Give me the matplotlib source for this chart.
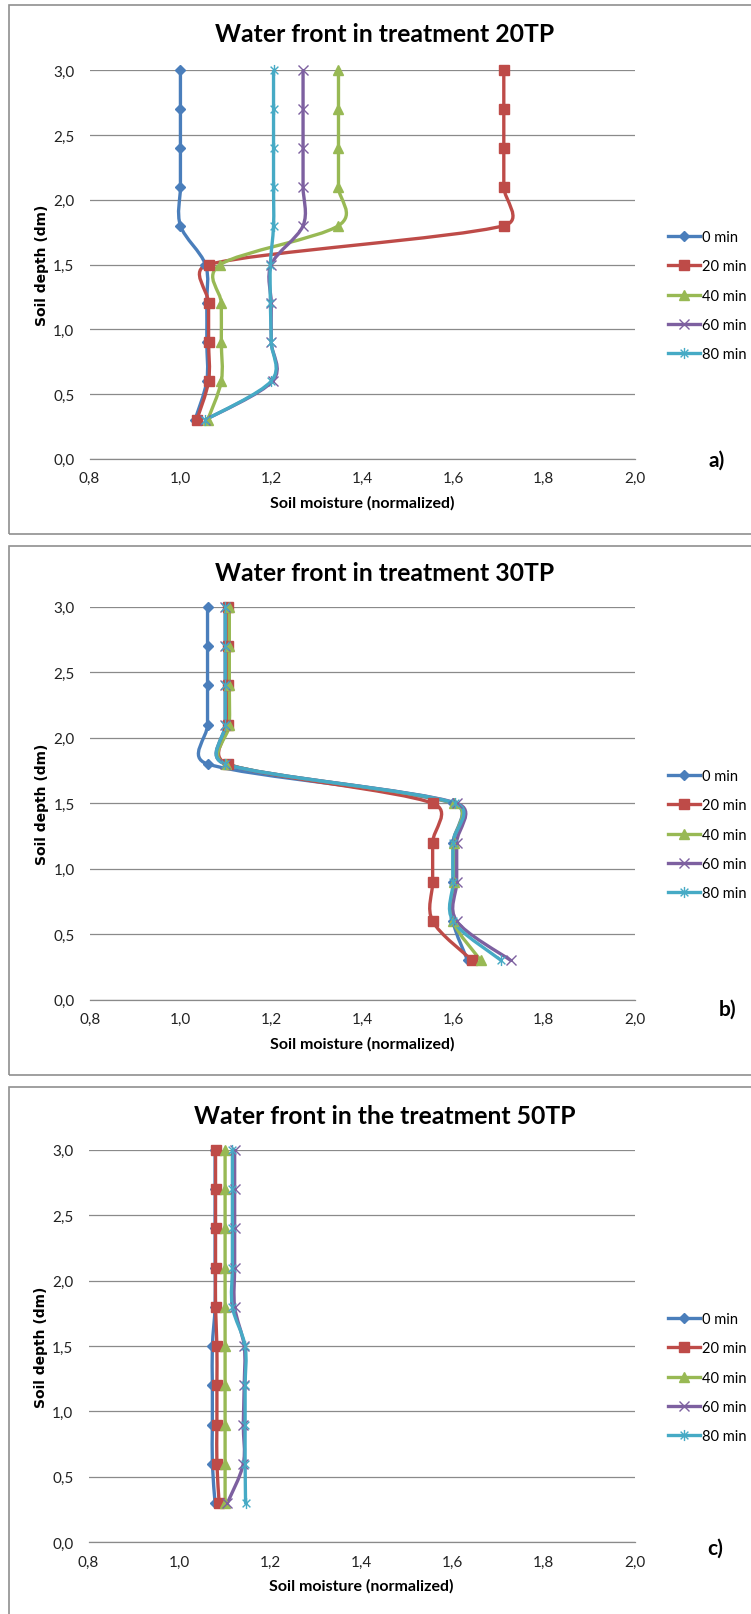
import numpy as np
import matplotlib
matplotlib.use('Agg')
import matplotlib.pyplot as plt
from matplotlib.path import Path
from matplotlib.patches import PathPatch, Rectangle
from matplotlib.lines import Line2D

plt.rcParams['font.family'] = ['Lato', 'DejaVu Sans']

W, H = 751, 1615

# depth of the probes (dm), read from top to bottom
depth = [3.0, 2.7, 2.4, 2.1, 1.8, 1.5, 1.2, 0.9, 0.6, 0.3]
times = ['0 min', '20 min', '40 min', '60 min', '80 min']

# treatment 20TP
tp20_0 = [1.0, 1.0, 1.0, 1.0, 1.0, 1.055, 1.058, 1.058, 1.058, 1.032]
tp20_20 = [1.712, 1.712, 1.712, 1.712, 1.712, 1.062, 1.062, 1.062, 1.062, 1.036]
tp20_40 = [1.348, 1.348, 1.348, 1.348, 1.348, 1.088, 1.09, 1.09, 1.09, 1.06]
tp20_60 = [1.27, 1.27, 1.27, 1.27, 1.27, 1.2, 1.2, 1.2, 1.203, 1.055]
tp20_80 = [1.205, 1.205, 1.205, 1.205, 1.205, 1.198, 1.198, 1.2, 1.2, 1.055]

# treatment 30TP
tp30_0 = [1.059, 1.059, 1.059, 1.059, 1.059, 1.6, 1.6, 1.6, 1.6, 1.632]
tp30_20 = [1.103, 1.103, 1.103, 1.103, 1.103, 1.555, 1.555, 1.555, 1.555, 1.642]
tp30_40 = [1.107, 1.107, 1.107, 1.107, 1.1, 1.601, 1.601, 1.601, 1.6, 1.661]
tp30_60 = [1.098, 1.098, 1.098, 1.098, 1.098, 1.608, 1.608, 1.608, 1.608, 1.727]
tp30_80 = [1.098, 1.098, 1.098, 1.098, 1.098, 1.605, 1.6, 1.6, 1.6, 1.706]

# treatment 50TP
tp50_0 = [1.078, 1.078, 1.078, 1.078, 1.078, 1.072, 1.072, 1.072, 1.072, 1.078]
tp50_20 = [1.079, 1.079, 1.079, 1.079, 1.079, 1.082, 1.082, 1.082, 1.082, 1.087]
tp50_40 = [1.1, 1.1, 1.1, 1.1, 1.1, 1.1, 1.1, 1.1, 1.1, 1.1]
tp50_60 = [1.121, 1.121, 1.121, 1.121, 1.121, 1.142, 1.142, 1.14, 1.14, 1.105]
tp50_80 = [1.116, 1.116, 1.116, 1.116, 1.116, 1.144, 1.144, 1.144, 1.144, 1.145]

titles = ['Water front in treatment 20TP', 'Water front in treatment 30TP',
          'Water front in the treatment 50TP']
letters = ['a)', 'b)', 'c)']

colors = ['#4A7EBB', '#BE4B48', '#98B954', '#7D60A0', '#46AAC5']

# excel-like star marker: x with a vertical bar
star = Path([(0, -1), (0, 1), (-0.7, -0.7), (0.7, 0.7), (-0.7, 0.7), (0.7, -0.7)],
            [Path.MOVETO, Path.LINETO] * 3)
marker_kw = [
    dict(marker='D', ms=5.5, mfc=colors[0], mec=colors[0]),
    dict(marker='s', ms=7, mfc=colors[1], mec=colors[1]),
    dict(marker='^', ms=7.5, mfc=colors[2], mec=colors[2]),
    dict(marker='x', ms=7, mec=colors[3], mew=1.0),
    dict(marker=star, ms=8, mec=colors[4], mew=1.0),
]


def handle(v, seg, f=1/6, cap=0.55):
    # catmull-rom tangent, limited so short segments don't overshoot much
    h = f * v
    n = np.hypot(*h)
    if n > cap * seg and n > 0:
        h = h * cap * seg / n
    return h


def smooth_patch(ax, xs, ys, color):
    # bezier smoothing done in screen space, like the spreadsheet smoothed lines
    pts = ax.transData.transform(np.column_stack([xs, ys]))
    n = len(pts)
    verts = [pts[0]]
    codes = [Path.MOVETO]
    for i in range(n - 1):
        p1, p2 = pts[i], pts[i + 1]
        p0 = pts[i - 1] if i > 0 else p1
        p3 = pts[i + 2] if i + 2 < n else p2
        seg = np.hypot(*(p2 - p1))
        c1 = p1 + handle(p2 - p0, seg)
        c2 = p2 - handle(p3 - p1, seg)
        verts += [c1, c2, p2]
        codes += [Path.CURVE4] * 3
    verts = ax.transData.inverted().transform(np.array(verts))
    return PathPatch(Path(verts, codes), fill=False, ec=color, lw=2.4,
                     capstyle='round', joinstyle='round')


def fx(x):
    return x / W


def fy(y):
    return 1 - y / H


fig = plt.figure(figsize=(W / 100, H / 100), dpi=100)

# panel geometry in pixels
frames = [(9, 6, 535), (9, 547, 1076), (9, 1088, 1640)]
axboxes = [(89.6, 71.3, 634.6, 459.7), (90, 607.8, 634.6, 1000.7), (88.6, 1150.8, 634.6, 1543.3)]
title_y = [34.4, 573.4, 1116.3]
legend_y = [231, 770, 1313]
letter_pos = [(717, 461), (728, 1010), (715, 1549)]

series = [[tp20_0, tp20_20, tp20_40, tp20_60, tp20_80],
          [tp30_0, tp30_20, tp30_40, tp30_60, tp30_80],
          [tp50_0, tp50_20, tp50_40, tp50_60, tp50_80]]

for k in range(3):
    l, t, b = frames[k]
    fig.patches.append(Rectangle((fx(l), fy(b)), fx(800 - l), (b - t) / H,
                                 transform=fig.transFigure, fill=False,
                                 ec='#8f8f8f', lw=1.2, zorder=0))

    al, at, ar, ab = axboxes[k]
    ax = fig.add_axes([fx(al), fy(ab), fx(ar - al), (ab - at) / H])
    ax.set_xlim(0.8, 2.0)
    ax.set_ylim(0, 3.0)
    xt = np.arange(0.8, 2.01, 0.2)
    yt = np.arange(0, 3.01, 0.5)
    ax.set_xticks(xt)
    ax.set_xticklabels([f'{v:.1f}'.replace('.', ',') for v in xt])
    ax.set_yticks(yt)
    ax.set_yticklabels([f'{v:.1f}'.replace('.', ',') for v in yt])
    ax.tick_params(length=0, labelsize=11, colors='#222222')
    ax.tick_params(axis='x', pad=9)
    ax.tick_params(axis='y', pad=11)
    ax.yaxis.grid(True, color='#8a8a8a', lw=0.9)
    ax.set_axisbelow(True)
    for s in ['top', 'right', 'left']:
        ax.spines[s].set_visible(False)
    ax.spines['bottom'].set_color('#8a8a8a')
    ax.spines['bottom'].set_linewidth(0.9)
    ax.patch.set_alpha(0)

    handles = []
    for j, vals in enumerate(series[k]):
        ax.add_patch(smooth_patch(ax, vals, depth, colors[j]))
        ax.plot(vals, depth, ls='none', clip_on=False, **marker_kw[j])
        handles.append(Line2D([], [], color=colors[j], lw=2.4, **marker_kw[j]))

    ax.set_xlabel('Soil moisture (normalized)', fontsize=11.5, weight='bold', labelpad=7)
    ax.set_ylabel('Soil depth (dm)', fontsize=10, weight='bold',
                  family='DejaVu Sans', labelpad=3)

    ax.legend(handles, times, loc='upper left', bbox_to_anchor=(fx(668), fy(legend_y[k])),
              bbox_transform=fig.transFigure, frameon=False, fontsize=10.5,
              handlelength=2.2, handletextpad=0.15, labelspacing=1.05,
              borderpad=0, borderaxespad=0)

    fig.text(fx(385), fy(title_y[k]), titles[k], fontsize=17.8, weight='bold',
             ha='center', va='center')
    lx, ly = letter_pos[k]
    fig.text(fx(lx), fy(ly), letters[k], fontsize=15, weight='bold',
             ha='center', va='center')

fig.savefig('out.png', dpi=100, facecolor='white')
